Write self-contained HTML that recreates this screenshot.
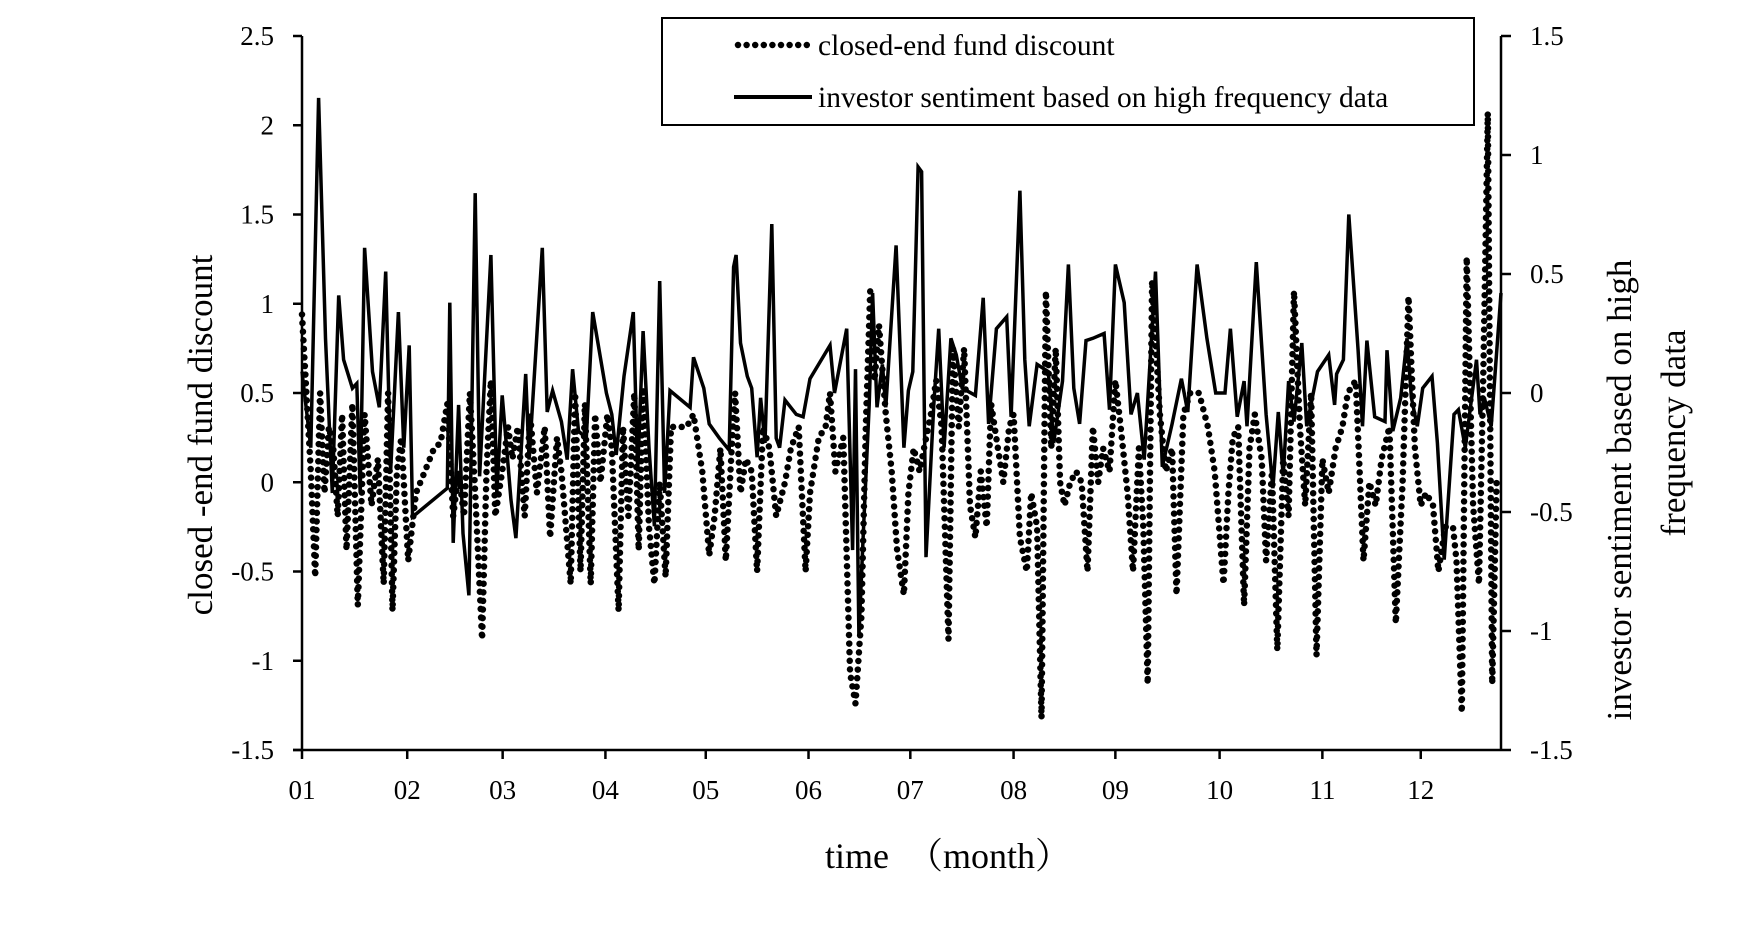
<!DOCTYPE html>
<html><head><meta charset="utf-8">
<style>
html,body{margin:0;padding:0;background:#fff;}
svg{display:block;font-family:"Liberation Serif","Noto Serif CJK SC",serif;}
</style></head>
<body>
<svg id="chart" width="1756" height="930" viewBox="0 0 1756 930" xmlns="http://www.w3.org/2000/svg">
<g id="grid"></g>
<g id="series"></g>
<g id="axes"></g>
<rect x="662" y="18" width="812" height="107" fill="#fff" stroke="#000" stroke-width="2"/>
<line x1="738" y1="45" x2="810" y2="45" stroke="#000" stroke-width="6.5" stroke-linecap="round" stroke-dasharray="0 8.6"/>
<text x="818" y="55" font-size="29.5">closed-end fund discount</text>
<line x1="734" y1="97" x2="812" y2="97" stroke="#000" stroke-width="4"/>
<text x="818" y="107" font-size="29.5">investor sentiment based on high frequency data</text>
<text x="825" y="868" font-size="36">time　（month）</text>
<text transform="translate(212,435) rotate(-90)" text-anchor="middle" font-size="35">closed -end fund discount</text>
<text transform="translate(1631,490) rotate(-90)" text-anchor="middle" font-size="35">investor sentiment based on high</text>
<text transform="translate(1685,433) rotate(-90)" text-anchor="middle" font-size="35">frequency data</text>
</svg>
<script>
const monthLabels = ["01","02","03","04","05","06","07","08","09","10","11","12"];
const monthDays = [0,21.5,41,62,82.5,103.5,124.3,145.4,166.2,187.5,208.5,228.6];
const leftTicks = [2.5,2,1.5,1,0.5,0,-0.5,-1,-1.5];
const rightTicks = [1.5,1,0.5,0,-0.5,-1,-1.5];
const discDays = [0,0.9,1.8,2.7,3.7,4.6,5.5,6.4,7.3,8.2,9.1,10.3,11.4,12.8,14.2,15.5,16.7,17.6,18.5,19.4,20.3,21.7,23.3,25.1,27,28.3,29.7,30.9,32,33.1,34.3,35.4,36.8,37.7,38.6,39.5,40.9,42.1,43,44.1,45.5,46.6,48,49.6,50.7,52.1,53,54.9,55.8,56.9,57.8,59,59.9,61,62.4,63.3,64.7,65.6,66.7,67.9,68.8,69.7,70.9,72,73.1,74.3,75.4,76.8,78.6,80,81.8,83.2,84.3,85.5,86.6,87.8,88.5,89.6,90.7,91.9,93,94.2,95.5,96.9,98.7,99.9,101.5,102.9,103.8,105.6,107,107.9,109,110.6,112,113.1,114.3,115.2,116.1,117,117.9,119.3,120.5,121.6,123,123.9,125,126.2,127.1,128.5,129.6,130.7,132.1,133,134.2,135.3,136.5,137.6,138.7,139.9,140.8,142.2,143.3,144.5,145.4,146.7,148.1,149,150.2,151.1,152,153.1,154,154.9,155.8,157,158.2,159.3,160.5,161.6,162.7,163.7,165,166.2,167.3,168.7,169.8,171,171.9,172.8,173.7,175.3,176.5,177.8,178.7,180.1,181.5,183.3,185.1,186.5,188.3,189.3,190.2,191.3,192.5,193.6,194.7,196.1,197,198.2,199.3,200.5,201.6,202.7,203.9,205,206.2,207.3,208.5,209.8,211.2,212.6,213.7,215.3,216.9,218.1,219.4,220.6,222.2,223.5,224.9,226.1,227.4,228.6,229.7,231.1,232.2,233.6,235.2,235.9,237,238,239.3,240.5,241.4,242.3,243.2,244.1,245];
const discVals = [.94,.5,.06,-.53,.5,-.06,.31,.19,-.19,.38,-.38,.44,-.69,.38,-.13,.13,-.57,.5,-.72,.06,.25,-.44,-.06,.06,.19,.22,.44,-.19,.06,-.19,.5,-.06,-.88,.06,.57,-.19,.06,.31,.13,.31,-.19,.38,-.06,.31,-.31,.25,.06,-.57,.5,-.5,.44,-.57,.38,0,.38,.19,-.72,.31,-.19,.5,-.38,.53,-.25,-.57,0,-.53,.31,.31,.31,.38,.06,-.41,-.19,.19,-.44,.19,.5,-.06,.13,.06,-.5,.31,.19,-.19,0,.19,.31,-.5,-.06,.25,.31,.5,.06,.25,-1.07,-1.24,-.75,.31,1.07,.57,.88,.38,.06,-.38,-.63,-.06,.19,.06,.19,.38,.57,.31,-.88,.75,.31,.75,-.13,-.31,.06,-.25,.44,.19,0,.31,.38,-.31,-.5,-.06,-.25,-1.32,1.07,.19,.75,0,-.13,0,.06,0,-.5,.31,0,.19,.06,.57,.31,-.06,-.5,.19,-.25,-1.13,1.13,.38,.06,.19,-.63,.38,.5,.5,.31,.06,-.57,-.06,.25,.31,-.69,.19,.38,.13,-.44,.06,-.94,.13,-.19,1.07,.31,-.13,.5,-.97,.13,-.06,.19,.31,.5,.57,-.44,0,-.13,.13,.31,-.79,0,1.04,.19,-.13,-.06,-.13,-.5,-.25,-.25,-.44,-1.29,1.26,-.13,-.57,.63,2.07,-1.13,0,0];
const sentDays = [0,1.8,3.4,4.8,6.2,7.5,8.5,10.3,11.2,11.9,12.8,14.4,15.8,17.1,18.1,19.7,20.8,21.9,22.6,29.7,30.2,30.9,32,32.9,34.1,35.4,36.3,38.6,39.8,40.9,42.7,43.7,45.7,46.4,49.1,50.1,51.2,53,54.2,55.3,56.5,58.1,59.4,62.2,63.3,64.2,65.8,67.7,68.6,69.7,70.9,72,73.1,74.1,75.2,79.3,80,82.1,83.2,85.3,87.3,88.2,88.7,89.6,91,91.9,93,93.7,94.6,96,96.9,97.6,98.7,101,102.4,103.8,107.9,108.8,111.3,112.5,113.1,113.8,114.7,115.9,116.6,117.5,118.6,119.3,121.4,123,123.9,124.8,125.9,126.6,127.5,129.1,130.1,131.2,132.6,133.7,134.9,137.6,139.2,140.3,141.9,144,144.9,146.7,147.7,148.6,150.2,152.5,153.6,155.4,156.6,157.7,158.9,160.2,161.6,163.9,165,166.2,168,169.4,170.7,172.1,174.4,175.8,177.8,179.7,181,182.9,184.9,186.7,188.6,189.7,191.1,192.5,193.1,195,197,198.4,199.5,200.5,201.6,202.7,204.3,205.3,207.5,209.8,211,211.4,212.8,213.9,215.8,216.7,217.6,219.2,221.3,221.7,222.9,224.5,225.8,226.7,227.9,229,230.9,232,233.4,235.4,236.3,237.7,240,240.7,241.6,243,245];
const sentVals = [.09,-.23,1.24,.23,-.42,.41,.14,.02,.04,-.42,.61,.09,-.06,.51,-.33,.34,-.23,.2,-.52,-.4,.38,-.63,-.05,-.59,-.85,.84,-.35,.58,-.42,-.01,-.45,-.61,.08,-.28,.61,-.08,.01,-.12,-.28,.1,-.16,-.19,.34,0,-.09,-.26,.07,.34,-.33,.26,-.23,-.56,.47,-.42,.01,-.06,.15,.02,-.13,-.19,-.24,.53,.58,.21,.07,.02,-.27,-.02,-.21,.71,-.19,-.23,-.03,-.09,-.1,.06,.2,0,.27,-.66,.1,-1.02,-.59,-.05,.42,-.06,.12,-.06,.62,-.23,.01,.09,.95,.93,-.69,-.05,.27,-.23,.23,.16,.02,-.01,.4,-.13,.27,.32,-.1,.85,.14,-.14,.12,.09,-.21,.05,.54,.02,-.13,.22,.23,.25,-.07,.54,.38,-.09,0,-.28,.51,-.31,-.13,.06,-.08,.54,.23,0,0,.27,-.1,.05,-.14,.55,-.09,-.4,-.08,-.35,.05,-.12,.21,-.14,.09,.16,-.05,.08,.14,.75,.18,-.14,.22,-.1,-.12,.18,-.16,-.02,.23,-.02,-.14,.02,.07,-.21,-.7,-.09,-.07,-.23,.14,-.09,-.02,-.14,.42];

const X0=302, X1=1501, Y0=36, Y1=750, DMAX=245;
const xs = d => X0 + d/DMAX*(X1-X0);
const yL = v => Y1 - (v+1.5)/4*(Y1-Y0);
const yR = v => Y1 - (v+1.5)/3*(Y1-Y0);
const NS="http://www.w3.org/2000/svg";
function mk(tag, attrs, parent){const e=document.createElementNS(NS,tag);for(const k in attrs)e.setAttribute(k,attrs[k]);parent.appendChild(e);return e;}
const axes=document.getElementById('axes'), series=document.getElementById('series');

let p1 = discDays.map((d,i)=>(i?'L':'M')+xs(d).toFixed(1)+' '+yL(discVals[i]).toFixed(1)).join(' ');
const disc = mk('path',{d:p1,fill:'none',stroke:'#000','stroke-width':6.5,'stroke-linecap':'round','stroke-dasharray':'0 8.6'},series);


let p2 = sentDays.map((d,i)=>(i?'L':'M')+xs(d).toFixed(1)+' '+yR(sentVals[i]).toFixed(1)).join(' ');
const sent = mk('path',{d:p2,fill:'none',stroke:'#000','stroke-width':3.5,'stroke-linejoin':'miter','stroke-miterlimit':4},series);



const la = mk('line',{x1:X0,y1:Y0,x2:X0,y2:Y1,stroke:'#000','stroke-width':2.5},axes);


const ra = mk('line',{x1:X1,y1:Y0,x2:X1,y2:Y1,stroke:'#000','stroke-width':2.5},axes);


const xa = mk('line',{x1:X0-9,y1:Y1,x2:X1,y2:Y1,stroke:'#000','stroke-width':2.5},axes);



leftTicks.forEach(v=>{
  const y=yL(v);
  mk('line',{x1:X0-9,y1:y,x2:X0,y2:y,stroke:'#000','stroke-width':2.5},axes);
  const t=mk('text',{x:X0-28,y:y+9,'text-anchor':'end','font-size':27},axes);
  t.textContent=String(v);
  
  
});
rightTicks.forEach(v=>{
  const y=yR(v);
  mk('line',{x1:X1,y1:y,x2:X1+10,y2:y,stroke:'#000','stroke-width':2.5},axes);
  const t=mk('text',{x:X1+29,y:y+9,'text-anchor':'start','font-size':27},axes);
  t.textContent=String(v);
  
  
});
monthDays.forEach((d,i)=>{
  const x=xs(d);
  mk('line',{x1:x,y1:Y1,x2:x,y2:Y1+9,stroke:'#000','stroke-width':2.5},axes);
  const t=mk('text',{x:x,y:799,'text-anchor':'middle','font-size':27},axes);
  t.textContent=monthLabels[i];
  
  
});
</script>
</body></html>
